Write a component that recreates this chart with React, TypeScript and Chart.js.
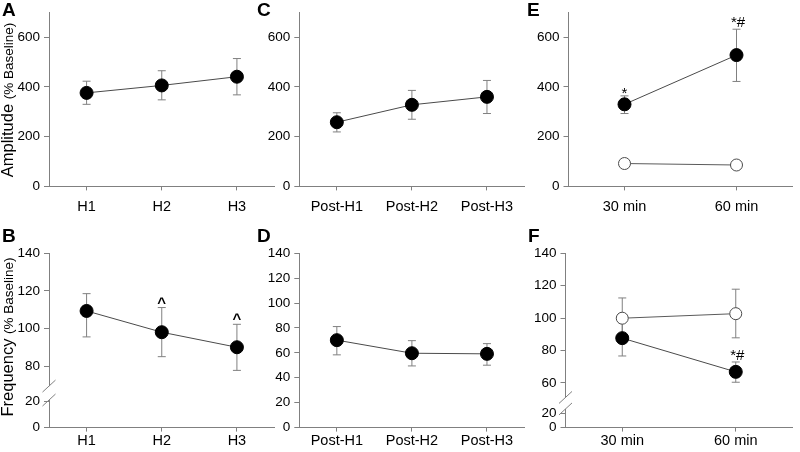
import React, { useEffect, useRef } from "react";
import { Chart, registerables, LinearScale } from "chart.js";

Chart.register(...registerables);

// ---------------- DATA ----------------
const catsH = ["H1", "H2", "H3"];
const catsPost = ["Post-H1", "Post-H2", "Post-H3"];
const catsTime = ["30 min", "60 min"];

const ampTicks = [0, 200, 400, 600];
const freqTicksBroken = [0, 20, 80, 100, 120, 140];
const freqTicksFull = [0, 20, 40, 60, 80, 100, 120, 140];
const freqTicksBrokenF = [0, 20, 60, 80, 100, 120, 140];

// A: Amplitude during H
const ampH = [376, 406, 441];
const ampHHi = [423, 465, 514];
const ampHLo = [330, 348, 368];

// C: Amplitude post-H
const ampPost = [258, 328, 360];
const ampPostHi = [296, 386, 426];
const ampPostLo = [219, 270, 293];

// E: Amplitude over time
const ampTimeFilled = [330, 528];
const ampTimeFilledHi = [364, 632];
const ampTimeFilledLo = [293, 422];
const ampTimeFilledMarks = ["*", "*#"];
const ampTimeOpen = [92, 86];

// B: Frequency during H
const freqH = [109.3, 98, 90];
const freqHHi = [118.5, 111.1, 102.2];
const freqHLo = [95.5, 85, 77.7];
const freqHMarks = ["", "^", "^"];

// D: Frequency post-H
const freqPost = [70.2, 59.7, 59.2];
const freqPostHi = [81.1, 69.8, 67.4];
const freqPostLo = [58.4, 49.5, 50.1];

// F: Frequency over time
const freqTimeFilled = [87.6, 66.8];
const freqTimeFilledHi = [98.6, 72.9];
const freqTimeFilledLo = [76.6, 60.4];
const freqTimeFilledMarks = ["", "*#"];
const freqTimeOpen = [99.9, 102.7];
const freqTimeOpenHi = [112.4, 117.8];
const freqTimeOpenLo = [87.4, 87.8];

// ---------------- STYLE ----------------
const FONT = "'Liberation Sans', Arial, Helvetica, sans-serif";
const AXIS = "#808080";
const LINE = "#4a4a4a";
const ERR = "#808080";

// ---------------- Broken linear scale ----------------
class BrokenLinearScale extends LinearScale {
  static id = "brokenLinear";
  static defaults = LinearScale.defaults;
  mapValue(v: number): number {
    const vals: number[] = (this.options as any).breakValues;
    const fr: number[] = (this.options as any).breakFractions;
    for (let i = 1; i < vals.length; i++) {
      if (v <= vals[i] || i === vals.length - 1) {
        return fr[i - 1] + ((v - vals[i - 1]) * (fr[i] - fr[i - 1])) / (vals[i] - vals[i - 1]);
      }
    }
    return 1;
  }
  getPixelForValue(value: any) {
    if (value === null || value === undefined || isNaN(value)) return NaN;
    return this.getPixelForDecimal(this.mapValue(+value));
  }
  getValueForPixel(pixel: number) {
    const d = this.getDecimalForPixel(pixel);
    const vals: number[] = (this.options as any).breakValues;
    const fr: number[] = (this.options as any).breakFractions;
    for (let i = 1; i < fr.length; i++) {
      if (d <= fr[i] || i === fr.length - 1) {
        return vals[i - 1] + ((d - fr[i - 1]) * (vals[i] - vals[i - 1])) / (fr[i] - fr[i - 1]);
      }
    }
    return vals[vals.length - 1];
  }
}
Chart.register(BrokenLinearScale as any);

// ---------------- Decoration plugin ----------------
const markOffset: Record<string, number> = { "*": 2, "*#": -2, "^": 0 };

const decoPlugin = {
  id: "panelDeco",
  beforeDatasetsDraw(chart: any) {
    const ctx = chart.ctx;
    const ys = chart.scales.y;
    chart.data.datasets.forEach((ds: any, i: number) => {
      if (!ds.errHi) return;
      const meta = chart.getDatasetMeta(i);
      meta.data.forEach((pt: any, j: number) => {
        const x = pt.x;
        const yh = ys.getPixelForValue(ds.errHi[j]);
        const yl = ys.getPixelForValue(ds.errLo[j]);
        ctx.save();
        ctx.strokeStyle = ERR;
        ctx.lineWidth = 1;
        ctx.beginPath();
        ctx.moveTo(x, yh);
        ctx.lineTo(x, yl);
        ctx.moveTo(x - 4, yh);
        ctx.lineTo(x + 4, yh);
        ctx.moveTo(x - 4, yl);
        ctx.lineTo(x + 4, yl);
        ctx.stroke();
        ctx.restore();
      });
    });
  },
  afterDatasetsDraw(chart: any) {
    const ctx = chart.ctx;
    const ys = chart.scales.y;
    chart.data.datasets.forEach((ds: any, i: number) => {
      if (!ds.marks) return;
      const meta = chart.getDatasetMeta(i);
      meta.data.forEach((pt: any, j: number) => {
        const m = ds.marks[j];
        if (!m) return;
        const yh = ys.getPixelForValue(ds.errHi ? ds.errHi[j] : ds.data[j]);
        ctx.save();
        ctx.fillStyle = "#000";
        ctx.textAlign = "center";
        ctx.textBaseline = "alphabetic";
        ctx.font = m === "^" ? `bold 15px ${FONT}` : `15px ${FONT}`;
        ctx.fillText(m, pt.x + (m === "*#" ? 1.5 : 0), yh + (markOffset[m] ?? 0));
        ctx.restore();
      });
    });
  },
  afterDraw(chart: any, _a: any, opts: any) {
    if (!opts) return;
    const ctx = chart.ctx;
    const area = chart.chartArea;
    const ys = chart.scales.y;
    ctx.save();
    if (opts.breaks) {
      const x = area.left;
      const yA = ys.getPixelForDecimal(opts.breaks[0]);
      const yB = ys.getPixelForDecimal(opts.breaks[1]);
      ctx.fillStyle = "#fff";
      ctx.fillRect(x - 2, Math.min(yA, yB), 4, Math.abs(yB - yA));
      ctx.strokeStyle = AXIS;
      ctx.lineWidth = 1;
      ctx.beginPath();
      [yA, yB].forEach((yc) => {
        ctx.moveTo(x - 6.5, yc + 6);
        ctx.lineTo(x + 6.5, yc - 6);
      });
      ctx.stroke();
    }
    if (opts.letter) {
      ctx.fillStyle = "#000";
      ctx.font = `bold 19px ${FONT}`;
      ctx.textAlign = "left";
      ctx.textBaseline = "alphabetic";
      ctx.fillText(opts.letter, opts.letterX, opts.letterY);
    }
    if (opts.title1) {
      ctx.translate(opts.titleX, opts.titleY);
      ctx.rotate(-Math.PI / 2);
      ctx.fillStyle = "#000";
      ctx.textAlign = "left";
      ctx.textBaseline = "alphabetic";
      ctx.font = `16.5px ${FONT}`;
      const w1 = ctx.measureText(opts.title1 + " ").width;
      ctx.font = `13.5px ${FONT}`;
      const w2 = ctx.measureText(opts.title2).width;
      const start = -(w1 + w2) / 2;
      ctx.font = `16.5px ${FONT}`;
      ctx.fillText(opts.title1 + " ", start, 0);
      ctx.font = `13.5px ${FONT}`;
      ctx.fillText(opts.title2, start + w1, 0);
    }
    ctx.restore();
  },
};
Chart.register(decoPlugin as any);

// ---------------- Panels ----------------
type Area = { left: number; right: number; top: number; bottom: number };
type PanelCfg = {
  left: number;
  top: number;
  width: number;
  height: number;
  area: Area;
  labels: string[];
  datasets: any[];
  y: any;
  yTicks: number[];
  xPad: number;
  deco: any;
};

function filledDs(data: number[], hi?: number[], lo?: number[], marks?: string[]) {
  return {
    data,
    errHi: hi,
    errLo: lo,
    marks,
    borderColor: LINE,
    borderWidth: 1,
    pointRadius: 6.5,
    pointBackgroundColor: "#000",
    pointBorderColor: "#000",
    pointBorderWidth: 1,
    tension: 0,
    fill: false,
  };
}
function openDs(data: number[], hi?: number[], lo?: number[]) {
  return {
    data,
    errHi: hi,
    errLo: lo,
    borderColor: "#5a5a5a",
    borderWidth: 1,
    pointRadius: 6,
    pointBackgroundColor: "#fff",
    pointBorderColor: "#4a4a4a",
    pointBorderWidth: 1,
    tension: 0,
    fill: false,
  };
}

const TOP_AREA = { top: 12.3, bottom: 186.4 };
const BOT_AREA = { top: 253.2, bottom: 427.6 };

const panels: PanelCfg[] = [
  {
    left: 0, top: 0, width: 282, height: 226,
    area: { left: 49, right: 281, ...TOP_AREA },
    labels: catsH,
    datasets: [filledDs(ampH, ampHHi, ampHLo)],
    y: { type: "linear", min: 0, max: 700 },
    yTicks: ampTicks,
    xPad: 7.5,
    deco: { letter: "A", letterX: 2, letterY: 15.5, title1: "Amplitude", title2: "(% Baseline)", titleX: 13, titleY: 100 },
  },
  {
    left: 250, top: 0, width: 282, height: 226,
    area: { left: 299.3, right: 531, ...TOP_AREA },
    labels: catsPost,
    datasets: [filledDs(ampPost, ampPostHi, ampPostLo)],
    y: { type: "linear", min: 0, max: 700 },
    yTicks: ampTicks,
    xPad: 7.5,
    deco: { letter: "C", letterX: 7, letterY: 15.5 },
  },
  {
    left: 520, top: 0, width: 280, height: 226,
    area: { left: 568.5, right: 800, ...TOP_AREA },
    labels: catsTime,
    datasets: [filledDs(ampTimeFilled, ampTimeFilledHi, ampTimeFilledLo, ampTimeFilledMarks), openDs(ampTimeOpen)],
    y: { type: "linear", min: 0, max: 700 },
    yTicks: ampTicks,
    xPad: 7.5,
    deco: { letter: "E", letterX: 7, letterY: 15.5 },
  },
  {
    left: 0, top: 226, width: 282, height: 226,
    area: { left: 49, right: 281, ...BOT_AREA },
    labels: catsH,
    datasets: [filledDs(freqH, freqHHi, freqHLo, freqHMarks)],
    y: { type: "brokenLinear", min: 0, max: 140, breakValues: [0, 20, 70, 140], breakFractions: [0, 0.152, 0.245, 1] },
    yTicks: freqTicksBroken,
    xPad: 1,
    deco: { letter: "B", letterX: 2, letterY: 16, title1: "Frequency", title2: "(% Baseline)", titleX: 13, titleY: 111, breaks: [0.238, 0.158] },
  },
  {
    left: 250, top: 226, width: 282, height: 226,
    area: { left: 299.3, right: 531, ...BOT_AREA },
    labels: catsPost,
    datasets: [filledDs(freqPost, freqPostHi, freqPostLo)],
    y: { type: "linear", min: 0, max: 140 },
    yTicks: freqTicksFull,
    xPad: 1,
    deco: { letter: "D", letterX: 7, letterY: 16 },
  },
  {
    left: 520, top: 226, width: 280, height: 226,
    area: { left: 565.5, right: 797, ...BOT_AREA },
    labels: catsTime,
    datasets: [
      openDs(freqTimeOpen, freqTimeOpenHi, freqTimeOpenLo),
      filledDs(freqTimeFilled, freqTimeFilledHi, freqTimeFilledLo, freqTimeFilledMarks),
    ],
    y: { type: "brokenLinear", min: 0, max: 140, breakValues: [0, 20, 55, 140], breakFractions: [0, 0.0803, 0.2099, 1] },
    yTicks: freqTicksBrokenF,
    xPad: 1,
    deco: { letter: "F", letterX: 8, letterY: 16, breaks: [0.173, 0.107] },
  },
];

function buildConfig(cfg: PanelCfg): any {
  const a = cfg.area;
  return {
    type: "line",
    data: { labels: cfg.labels, datasets: cfg.datasets },
    options: {
      responsive: false,
      animation: false,
      events: [],
      layout: {
        padding: {
          left: 0,
          top: a.top - cfg.top,
          right: cfg.left + cfg.width - a.right,
          bottom: 0,
        },
      },
      plugins: {
        legend: { display: false },
        tooltip: { enabled: false },
        title: { display: false },
        panelDeco: cfg.deco,
      },
      scales: {
        x: {
          type: "category",
          offset: true,
          grid: { drawOnChartArea: false, drawTicks: true, tickLength: 4, color: AXIS, offset: false },
          border: { color: AXIS, width: 1 },
          ticks: { color: "#000", font: { family: FONT, size: 14.5 }, padding: cfg.xPad, maxRotation: 0, autoSkip: false },
          afterFit: (s: any) => {
            s.height = cfg.top + cfg.height - a.bottom;
          },
        },
        y: {
          ...cfg.y,
          grid: { drawOnChartArea: false, drawTicks: true, tickLength: 5, color: AXIS },
          border: { color: AXIS, width: 1 },
          ticks: { color: "#000", font: { family: FONT, size: 13.5 }, padding: 4, autoSkip: false },
          afterBuildTicks: (s: any) => {
            s.ticks = cfg.yTicks.map((v) => ({ value: v }));
          },
          afterFit: (s: any) => {
            s.width = a.left - cfg.left;
          },
        },
      },
    },
  };
}

function Panel({ cfg }: { cfg: PanelCfg }) {
  const ref = useRef<HTMLCanvasElement>(null);
  useEffect(() => {
    if (!ref.current) return;
    const chart = new Chart(ref.current, buildConfig(cfg));
    return () => chart.destroy();
  }, [cfg]);
  return (
    <canvas
      ref={ref}
      width={cfg.width}
      height={cfg.height}
      style={{ position: "absolute", left: cfg.left, top: cfg.top, width: cfg.width, height: cfg.height }}
    />
  );
}

export default function App() {
  return (
    <div style={{ position: "absolute", left: 0, top: 0, width: 800, height: 452, background: "#fff", overflow: "hidden" }}>
      {panels.map((p, i) => (
        <Panel key={i} cfg={p} />
      ))}
    </div>
  );
}
